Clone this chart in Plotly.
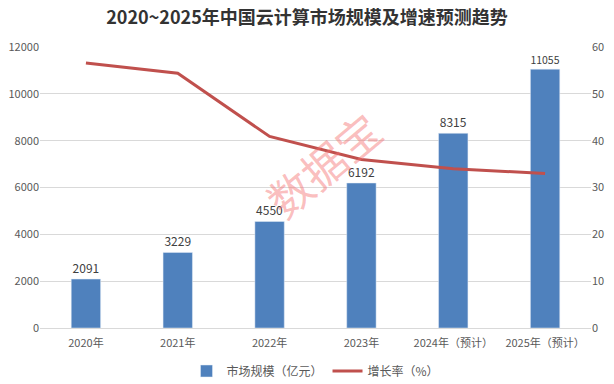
import plotly.graph_objects as go

years = ["2020年", "2021年", "2022年", "2023年", "2024年（预计）", "2025年（预计）"]
market = [2091, 3229, 4550, 6192, 8315, 11055]
growth = [56.6, 54.4, 40.9, 36.0, 34.0, 33.0]

fig = go.Figure()
fig.add_trace(go.Bar(
    x=years, y=market, name="市场规模（亿元）",
    marker_color="#4F81BD", text=[str(v) for v in market], textposition="outside",
    textfont=dict(size=12, color="#404040"), cliponaxis=False,
))
fig.add_trace(go.Scatter(
    x=years, y=growth, name="增长率（%）", yaxis="y2", mode="lines",
    line=dict(color="#C0504D", width=3),
))

fig.add_annotation(
    text="数据宝", xref="paper", yref="paper", x=(323-40)/551, y=(328-164)/281,
    showarrow=False, textangle=-40,
    font=dict(size=44, color="rgba(245,110,110,0.45)", family="Noto Sans CJK SC"),
)

fig.update_layout(
    width=614, height=384,
    margin=dict(l=40, r=23, t=47, b=56, autoexpand=False),
    paper_bgcolor="white", plot_bgcolor="white",
    font=dict(family="Noto Sans CJK SC, sans-serif", color="#595959", size=11),
    title=dict(text="<b>2020~2025年中国云计算市场规模及增速预测趋势</b>", x=0.5, xanchor="center",
               y=0.955, yanchor="middle", font=dict(size=18, color="#333333")),
    bargap=0.68,
    xaxis=dict(showline=True, linecolor="#D9D9D9", tickfont=dict(size=11, color="#595959"),
               ticks="outside", ticklen=5, tickcolor="rgba(0,0,0,0)", automargin=False),
    yaxis=dict(range=[0, 12000], dtick=2000, tickformat="d", gridcolor="#D9D9D9", zeroline=False,
               tickfont=dict(size=11, color="#595959"), ticks="", automargin=False),
    yaxis2=dict(range=[0, 60], dtick=10, tickformat="d", overlaying="y", side="right", showgrid=False,
                zeroline=False, tickfont=dict(size=11, color="#595959"), automargin=False),
    legend=dict(orientation="h", x=0.5, xanchor="center", y=13/384, yanchor="middle",
                yref="container", font=dict(size=12, color="#595959")),
    showlegend=True,
)

fig.write_html("out.html", config={"displayModeBar": False},
               post_script="document.body.style.margin='0';document.body.style.overflow='hidden';")
